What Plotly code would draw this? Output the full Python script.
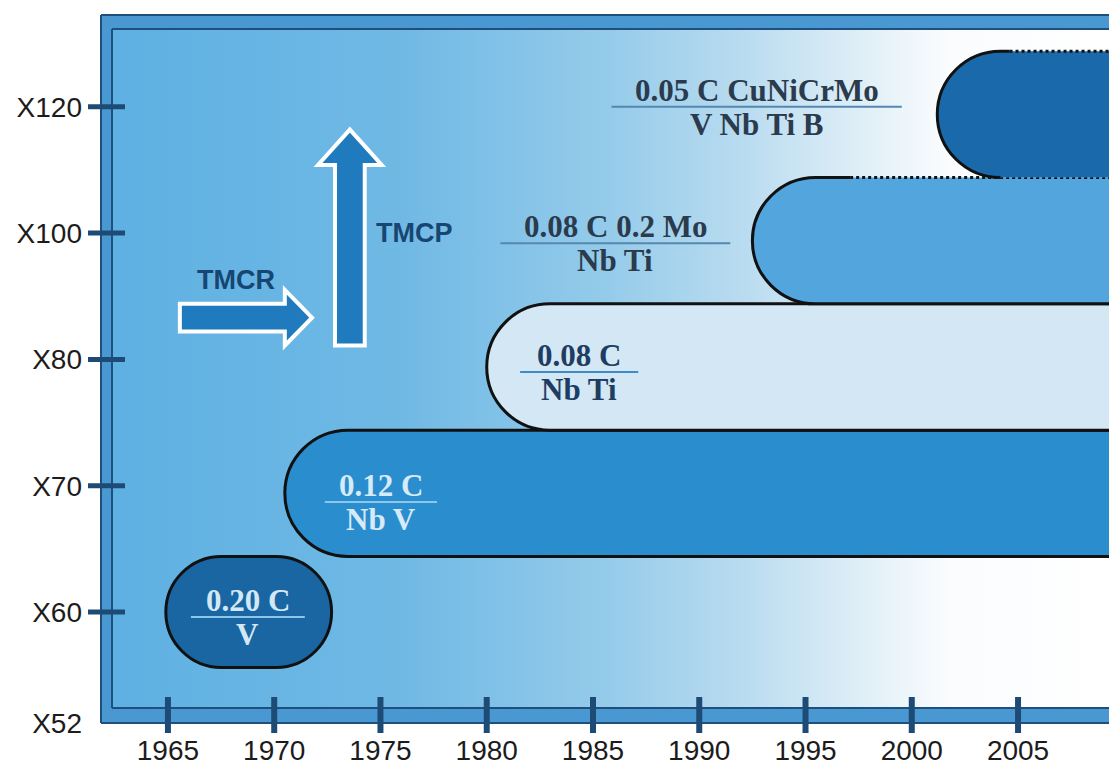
import plotly.graph_objects as go

# ---------------- data ----------------
grades = ["X52", "X60", "X70", "X80", "X100", "X120"]
grade_level = [0, 1, 2, 3, 4, 5]          # ordinal position on the strength axis
years = [1965, 1970, 1975, 1980, 1985, 1990, 1995, 2000, 2005]

pill_grades = ["X60", "X70", "X80", "X100", "X120"]
pill_start = [1964.9, 1970.5, 1980.0, 1992.5, 2001.2]
pill_end = [1972.7, None, None, None, None]      # None: still produced (runs off the chart)
chem_top = ["0.20 C", "0.12 C", "0.08 C", "0.08 C 0.2 Mo", "0.05 C CuNiCrMo"]
chem_bottom = ["V", "Nb V", "Nb Ti", "Nb Ti", "V Nb Ti B"]

process_labels = ["TMCR", "TMCP"]

# ---------------- layout geometry ----------------
W, H = 1109, 765
M_L, M_R, M_T, M_B = 101, 0, 15, 42
X_RANGE = [1961.85, 2009.28]
Y_RANGE = [0.121, 5.727]
PX_YEAR = (W - M_L - M_R) / (X_RANGE[1] - X_RANGE[0])
PX_LEVEL = (H - M_T - M_B) / (Y_RANGE[1] - Y_RANGE[0])

level_of = dict(zip(grades, grade_level))

# per-pill styling: fill, band centre shift, half height, text colours, label placement
pill_style = {
    "X60":  dict(fill="#1a66a3", shift=0.00, half=0.44, text="#d2e8f6", rule="#8cc6ea",
                 label_x=1968.76, rule_half=2.68, rule_dy=-0.04, top_solid=None, bottom_solid=True),
    "X70":  dict(fill="#2a8dce", shift=-0.06, half=0.50, text="#d6eaf7", rule="#8cc6ea",
                 label_x=1975.02, rule_half=2.64, rule_dy=-0.13, top_solid=None, bottom_solid=True),
    "X80":  dict(fill="#d4e7f4", shift=-0.06, half=0.50, text="#1d3d63", rule="#3f8bc6",
                 label_x=1984.35, rule_half=2.78, rule_dy=-0.10, top_solid=None, bottom_solid=True),
    "X100": dict(fill="#52a6dd", shift=-0.06, half=0.50, text="#2b3b4d", rule="#5687b0",
                 label_x=1986.05, rule_half=5.41, rule_dy=-0.08, top_solid=1997.1, bottom_solid=True),
    "X120": dict(fill="#1a69aa", shift=-0.06, half=0.50, text="#2b3b4d", rule="#5687b0",
                 label_x=1992.70, rule_half=6.83, rule_dy=0.00, top_solid=2004.6, bottom_solid=False),
}

OUTLINE = "#111111"
NAVY = "#1e4b75"
K = 0.5523  # cubic Bezier constant for a quarter ellipse


def cap_path(x0, yc, h, rx):
    """Left rounded cap: from top edge, round to the bottom edge."""
    y0, y1 = yc - h, yc + h
    return (f"C {x0 + rx - K * rx},{y1} {x0},{yc + K * h} {x0},{yc} "
            f"C {x0},{yc - K * h} {x0 + rx - K * rx},{y0} {x0 + rx},{y0} ")


def pill_fill_path(x0, x1, yc, h, rx, round_right):
    y0, y1 = yc - h, yc + h
    right = x1 - rx if round_right else x1
    p = f"M {right},{y1} L {x0 + rx},{y1} " + cap_path(x0, yc, h, rx)
    if round_right:
        p += (f"L {x1 - rx},{y0} C {x1 - rx + K * rx},{y0} {x1},{yc - K * h} {x1},{yc} "
              f"C {x1},{yc + K * h} {x1 - rx + K * rx},{y1} {x1 - rx},{y1} Z")
    else:
        p += f"L {x1},{y0} L {x1},{y1} Z"
    return p


shapes = []
annotations = []

# ---------------- background gradient ----------------
fig = go.Figure()
fig.add_trace(go.Scatter(
    x=[X_RANGE[0], X_RANGE[1], X_RANGE[1], X_RANGE[0], X_RANGE[0]],
    y=[Y_RANGE[0], Y_RANGE[0], Y_RANGE[1], Y_RANGE[1], Y_RANGE[0]],
    mode="lines", line=dict(width=0), fill="toself", hoverinfo="skip", showlegend=False,
    fillgradient=dict(type="horizontal", colorscale=[
        [0.00, "#5db0e2"], [0.30, "#70b9e5"], [0.50, "#94cbea"], [0.64, "#badcf0"],
        [0.77, "#e4f1f8"], [0.84, "#fafcfe"], [1.00, "#ffffff"]]),
))

# ---------------- pills ----------------
x_far = X_RANGE[1] + 2
for g, xs, xe, top, bot in zip(pill_grades, pill_start, pill_end, chem_top, chem_bottom):
    st = pill_style[g]
    yc = level_of[g] + st["shift"]
    h = st["half"]
    rx = h * PX_LEVEL / PX_YEAR
    closed = xe is not None
    x1 = xe if closed else x_far
    y0, y1 = yc - h, yc + h

    if st["top_solid"] is None and st["bottom_solid"]:
        shapes.append(dict(type="path", xref="x", yref="y", layer="above",
                           path=pill_fill_path(xs, x1, yc, h, rx, closed),
                           fillcolor=st["fill"], line=dict(color=OUTLINE, width=3)))
    else:
        shapes.append(dict(type="path", xref="x", yref="y", layer="above",
                           path=pill_fill_path(xs, x1, yc, h, rx, closed),
                           fillcolor=st["fill"], line=dict(width=0)))
        outline = f"M {st['top_solid']},{y1} L {xs + rx},{y1} " + cap_path(xs, yc, h, rx)
        if st["bottom_solid"]:
            outline += f"L {x1},{y0}"
        shapes.append(dict(type="path", xref="x", yref="y", layer="above", path=outline,
                           fillcolor="rgba(0,0,0,0)", line=dict(color=OUTLINE, width=3)))
        shapes.append(dict(type="line", xref="x", yref="y", layer="above",
                           x0=st["top_solid"], x1=x1, y0=y1, y1=y1,
                           line=dict(color=OUTLINE, width=3, dash="dot")))

    # chemistry fraction label
    ry = level_of[g] + st["rule_dy"]
    shapes.append(dict(type="line", xref="x", yref="y", layer="above",
                       x0=st["label_x"] - st["rule_half"], x1=st["label_x"] + st["rule_half"],
                       y0=ry, y1=ry, line=dict(color=st["rule"], width=2)))
    tfont = dict(family="Liberation Serif, Times New Roman, serif", size=31,
                 color=st["text"], weight="bold")
    annotations.append(dict(x=st["label_x"], y=ry, xref="x", yref="y", text=top,
                            showarrow=False, xanchor="center", yanchor="bottom",
                            yshift=-3, font=tfont))
    annotations.append(dict(x=st["label_x"], y=ry, xref="x", yref="y", text=bot,
                            showarrow=False, xanchor="center", yanchor="top",
                            yshift=2, font=tfont))

# ---------------- process arrows ----------------
ARROW_FILL = "#1f7bbd"
tmcr = dict(tail=1965.56, base=1970.5, tip=1971.78, yc=3.33, shaft=0.11, head=0.22)
a = tmcr
shapes.append(dict(type="path", xref="x", yref="y", layer="above",
                   path=(f"M {a['tail']},{a['yc'] - a['shaft']} L {a['base']},{a['yc'] - a['shaft']} "
                         f"L {a['base']},{a['yc'] - a['head']} L {a['tip']},{a['yc']} "
                         f"L {a['base']},{a['yc'] + a['head']} L {a['base']},{a['yc'] + a['shaft']} "
                         f"L {a['tail']},{a['yc'] + a['shaft']} Z"),
                   fillcolor=ARROW_FILL, line=dict(color="white", width=4)))
tmcp = dict(tail=3.11, base=4.54, tip=4.82, xc=1973.56, shaft=0.70, head=1.50)
a = tmcp
shapes.append(dict(type="path", xref="x", yref="y", layer="above",
                   path=(f"M {a['xc'] - a['shaft']},{a['tail']} L {a['xc'] - a['shaft']},{a['base']} "
                         f"L {a['xc'] - a['head']},{a['base']} L {a['xc']},{a['tip']} "
                         f"L {a['xc'] + a['head']},{a['base']} L {a['xc'] + a['shaft']},{a['base']} "
                         f"L {a['xc'] + a['shaft']},{a['tail']} Z"),
                   fillcolor=ARROW_FILL, line=dict(color="white", width=4)))
pfont = dict(family="Liberation Sans, Arial, sans-serif", size=27, color="#174672", weight="bold")
annotations.append(dict(x=1968.2, y=3.63, xref="x", yref="y", text=process_labels[0],
                        showarrow=False, font=pfont))
annotations.append(dict(x=1976.62, y=4.00, xref="x", yref="y", text=process_labels[1],
                        showarrow=False, font=pfont))

# ---------------- frame ----------------
BAND = "#4a98d2"
FX = 11 / (W - M_L - M_R)          # band width, paper units
FY_T = 14 / (H - M_T - M_B)
FY_B = 15 / (H - M_T - M_B)
for r in [(0, 0, FX, 1), (0, 1 - FY_T, 1.01, 1), (0, 0, 1.01, FY_B)]:
    shapes.append(dict(type="rect", xref="paper", yref="paper", layer="above",
                       x0=r[0], y0=r[1], x1=r[2], y1=r[3], fillcolor=BAND, line=dict(width=0)))
for seg in [(0, 0, 0, 1), (0, 1, 1.01, 1), (0, 0, 1.01, 0),
            (FX, FY_B, FX, 1 - FY_T), (FX, 1 - FY_T, 1.01, 1 - FY_T), (FX, FY_B, 1.01, FY_B)]:
    shapes.append(dict(type="line", xref="paper", yref="paper", layer="above",
                       x0=seg[0], y0=seg[1], x1=seg[2], y1=seg[3],
                       line=dict(color="#1f4f7d", width=2)))

# tick marks crossing the frame
for g, lvl in zip(grades, grade_level):
    if g == "X52":
        continue
    shapes.append(dict(type="line", xref="paper", yref="y", layer="above",
                       x0=-13 / 1008, x1=24 / 1008, y0=lvl, y1=lvl,
                       line=dict(color=NAVY, width=5)))
for yr in years:
    shapes.append(dict(type="line", xref="x", yref="paper", layer="above",
                       x0=yr, x1=yr, y0=-10 / 708, y1=26 / 708,
                       line=dict(color=NAVY, width=6)))

tick_pos = [Y_RANGE[0] if g == "X52" else lvl for g, lvl in zip(grades, grade_level)]
axis_font = dict(family="Liberation Sans, Arial, sans-serif", size=28, color="#1c1c1c")

fig.update_layout(
    template="none",
    width=W, height=H,
    margin=dict(l=M_L, r=M_R, t=M_T, b=M_B, pad=0),
    paper_bgcolor="white", plot_bgcolor="white",
    showlegend=False,
    shapes=shapes,
    annotations=annotations,
    xaxis=dict(range=X_RANGE, tickvals=years, ticktext=[str(y) for y in years],
               showgrid=False, zeroline=False, showline=False, ticks="",
               tickfont=axis_font, ticklabelstandoff=8, automargin=False, fixedrange=True),
    yaxis=dict(range=Y_RANGE, tickvals=tick_pos, ticktext=grades,
               showgrid=False, zeroline=False, showline=False, ticks="",
               tickfont=axis_font, ticklabelstandoff=18, automargin=False, fixedrange=True),
)

fig.write_html("out.html")
